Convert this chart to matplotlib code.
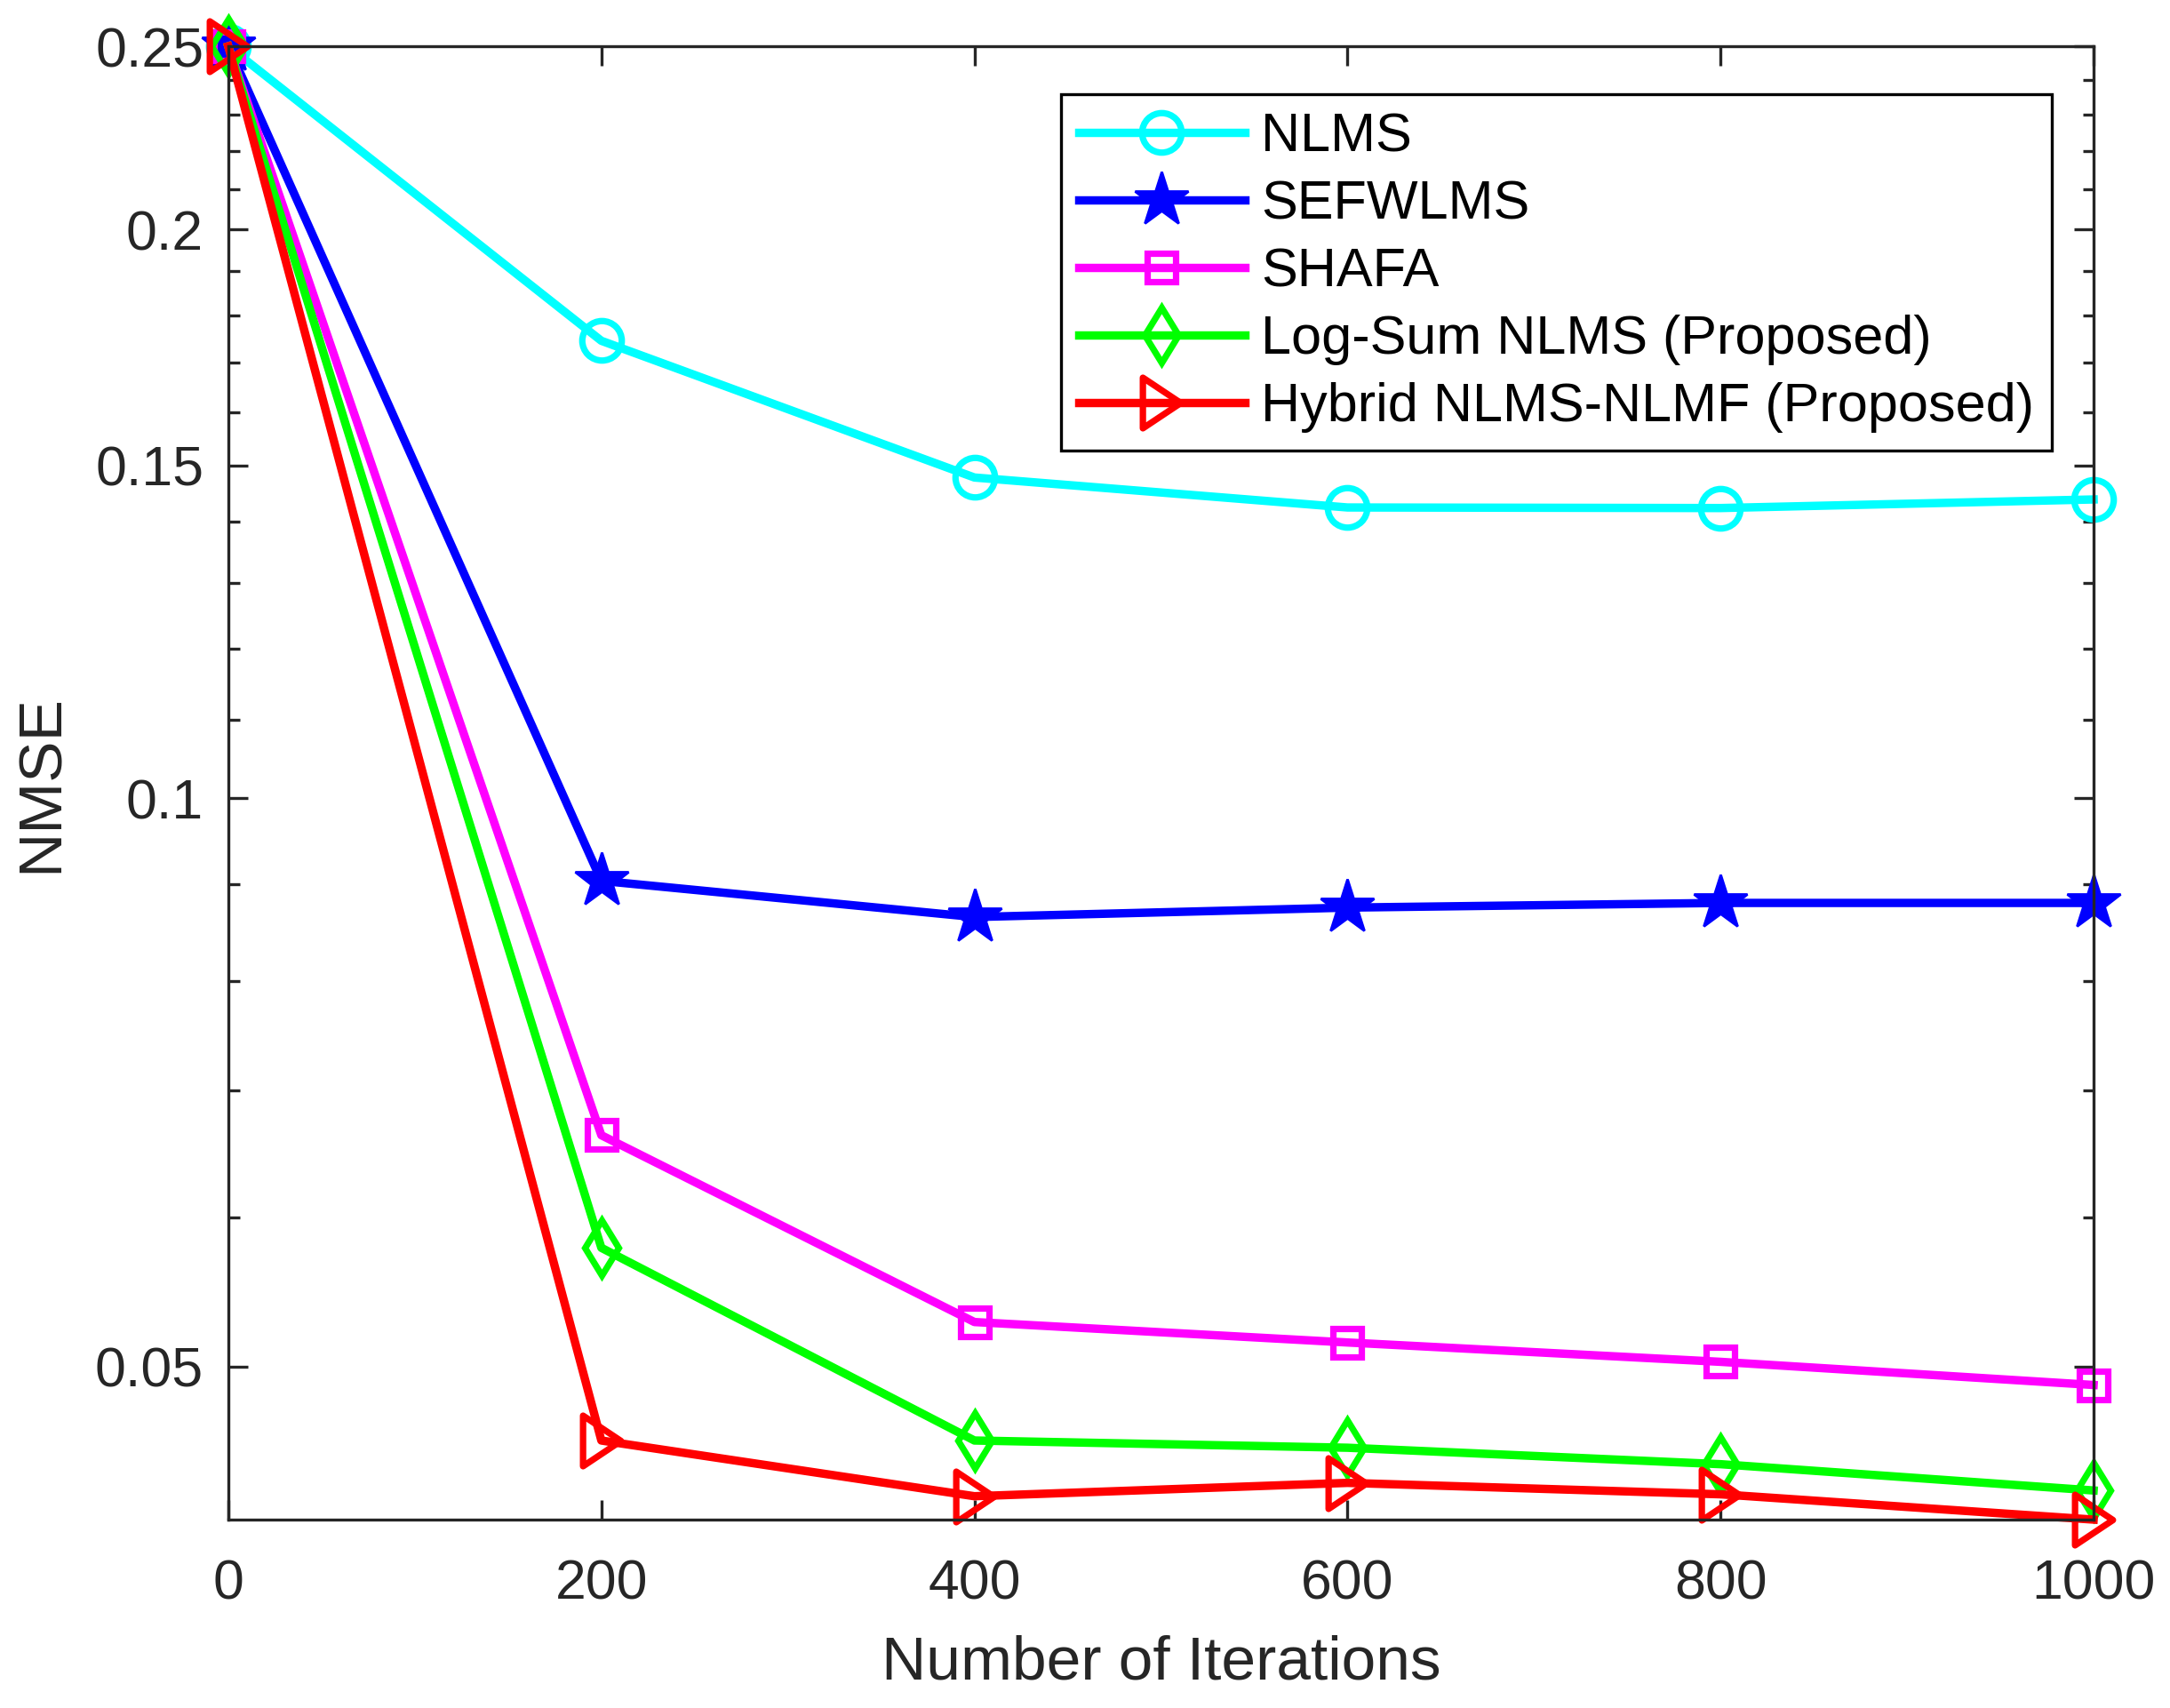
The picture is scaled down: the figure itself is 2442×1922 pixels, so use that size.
import matplotlib
matplotlib.use('Agg')
import matplotlib.pyplot as plt
from matplotlib.path import Path
from matplotlib.ticker import FixedLocator, NullFormatter

# data
iterations = [0, 200, 400, 600, 800, 1000]
nlms = [0.25, 0.1746, 0.1478, 0.1425, 0.1424, 0.1439]
sefwlms = [0.25, 0.0904, 0.0865, 0.0875, 0.0880, 0.0880]
shafa = [0.25, 0.0663, 0.0528, 0.0515, 0.0503, 0.0489]
logsum = [0.25, 0.0578, 0.0457, 0.0453, 0.0444, 0.0430]
hybrid = [0.25, 0.0457, 0.0427, 0.0434, 0.0428, 0.0415]

labels = ['NLMS', 'SEFWLMS', 'SHAFA',
          'Log-Sum NLMS (Proposed)', 'Hybrid NLMS-NLMF (Proposed)']

xticks = [0, 200, 400, 600, 800, 1000]
yticks = [0.05, 0.1, 0.15, 0.2, 0.25]
yticklabels = ['0.05', '0.1', '0.15', '0.2', '0.25']
yminor = [0.06, 0.07, 0.08, 0.09, 0.11, 0.12, 0.13, 0.14, 0.16, 0.17,
          0.18, 0.19, 0.21, 0.22, 0.23, 0.24]

plt.rcParams['font.family'] = ['Liberation Sans', 'DejaVu Sans']

# narrow right-pointing triangle (MATLAB style)
tri = Path([(-0.75, -1), (0.75, 0), (-0.75, 1), (-0.75, -1)],
           [Path.MOVETO, Path.LINETO, Path.LINETO, Path.CLOSEPOLY])

fig = plt.figure(figsize=(12.21, 9.61), dpi=200)
ax = fig.add_axes([0.1052, 0.1103, 0.8596, 0.8626])

lw = 3.4
mew = 2.6
ax.plot(iterations, nlms, color='#00FFFF', lw=lw, marker='o', ms=16,
        mfc='none', mew=mew, label=labels[0], clip_on=False)
ax.plot(iterations, sefwlms, color='#0000FF', lw=lw, marker='*', ms=23,
        mfc='#0000FF', mew=1, label=labels[1], clip_on=False)
ax.plot(iterations, shafa, color='#FF00FF', lw=lw, marker='s', ms=11.5,
        mfc='none', mew=mew, label=labels[2], clip_on=False)
ax.plot(iterations, logsum, color='#00FF00', lw=lw, marker='d', ms=16,
        mfc='none', mew=mew, label=labels[3], clip_on=False)
ax.plot(iterations, hybrid, color='#FF0000', lw=lw, marker=tri, ms=20.5,
        mfc='none', mew=mew, label=labels[4], clip_on=False)

ax.set_yscale('log')
ax.set_xlim(0, 1000)
ax.set_ylim(min(hybrid), max(nlms))

ax.yaxis.set_major_locator(FixedLocator(yticks))
ax.set_yticklabels(yticklabels)
ax.yaxis.set_minor_locator(FixedLocator(yminor))
ax.yaxis.set_minor_formatter(NullFormatter())
ax.set_xticks(xticks)
ax.set_xticklabels([str(v) for v in xticks])

ax.tick_params(which='both', direction='in', top=True, right=True,
               colors='#262626', width=1.2)
ax.tick_params(which='major', length=8, labelsize=22.5)
ax.tick_params(axis='y', which='major', pad=10)
ax.tick_params(axis='x', which='major', pad=15.5)
ax.tick_params(which='minor', length=4.5)
for sp in ax.spines.values():
    sp.set_color('#262626')
    sp.set_linewidth(1.2)

ax.set_xlabel('Number of Iterations', fontsize=25, color='#262626', labelpad=10)
ax.set_ylabel('NMSE', fontsize=25, color='#262626', labelpad=10)

leg = ax.legend(loc='upper right', bbox_to_anchor=(0.9776, 0.9674),
                borderaxespad=0, fontsize=22, numpoints=1, handlelength=3.05,
                handletextpad=0.3, labelspacing=0.31, borderpad=0.33,
                fancybox=False, framealpha=1, edgecolor='black')
leg.get_frame().set_linewidth(1.2)

fig.savefig('out.png', dpi=200, facecolor='white')
